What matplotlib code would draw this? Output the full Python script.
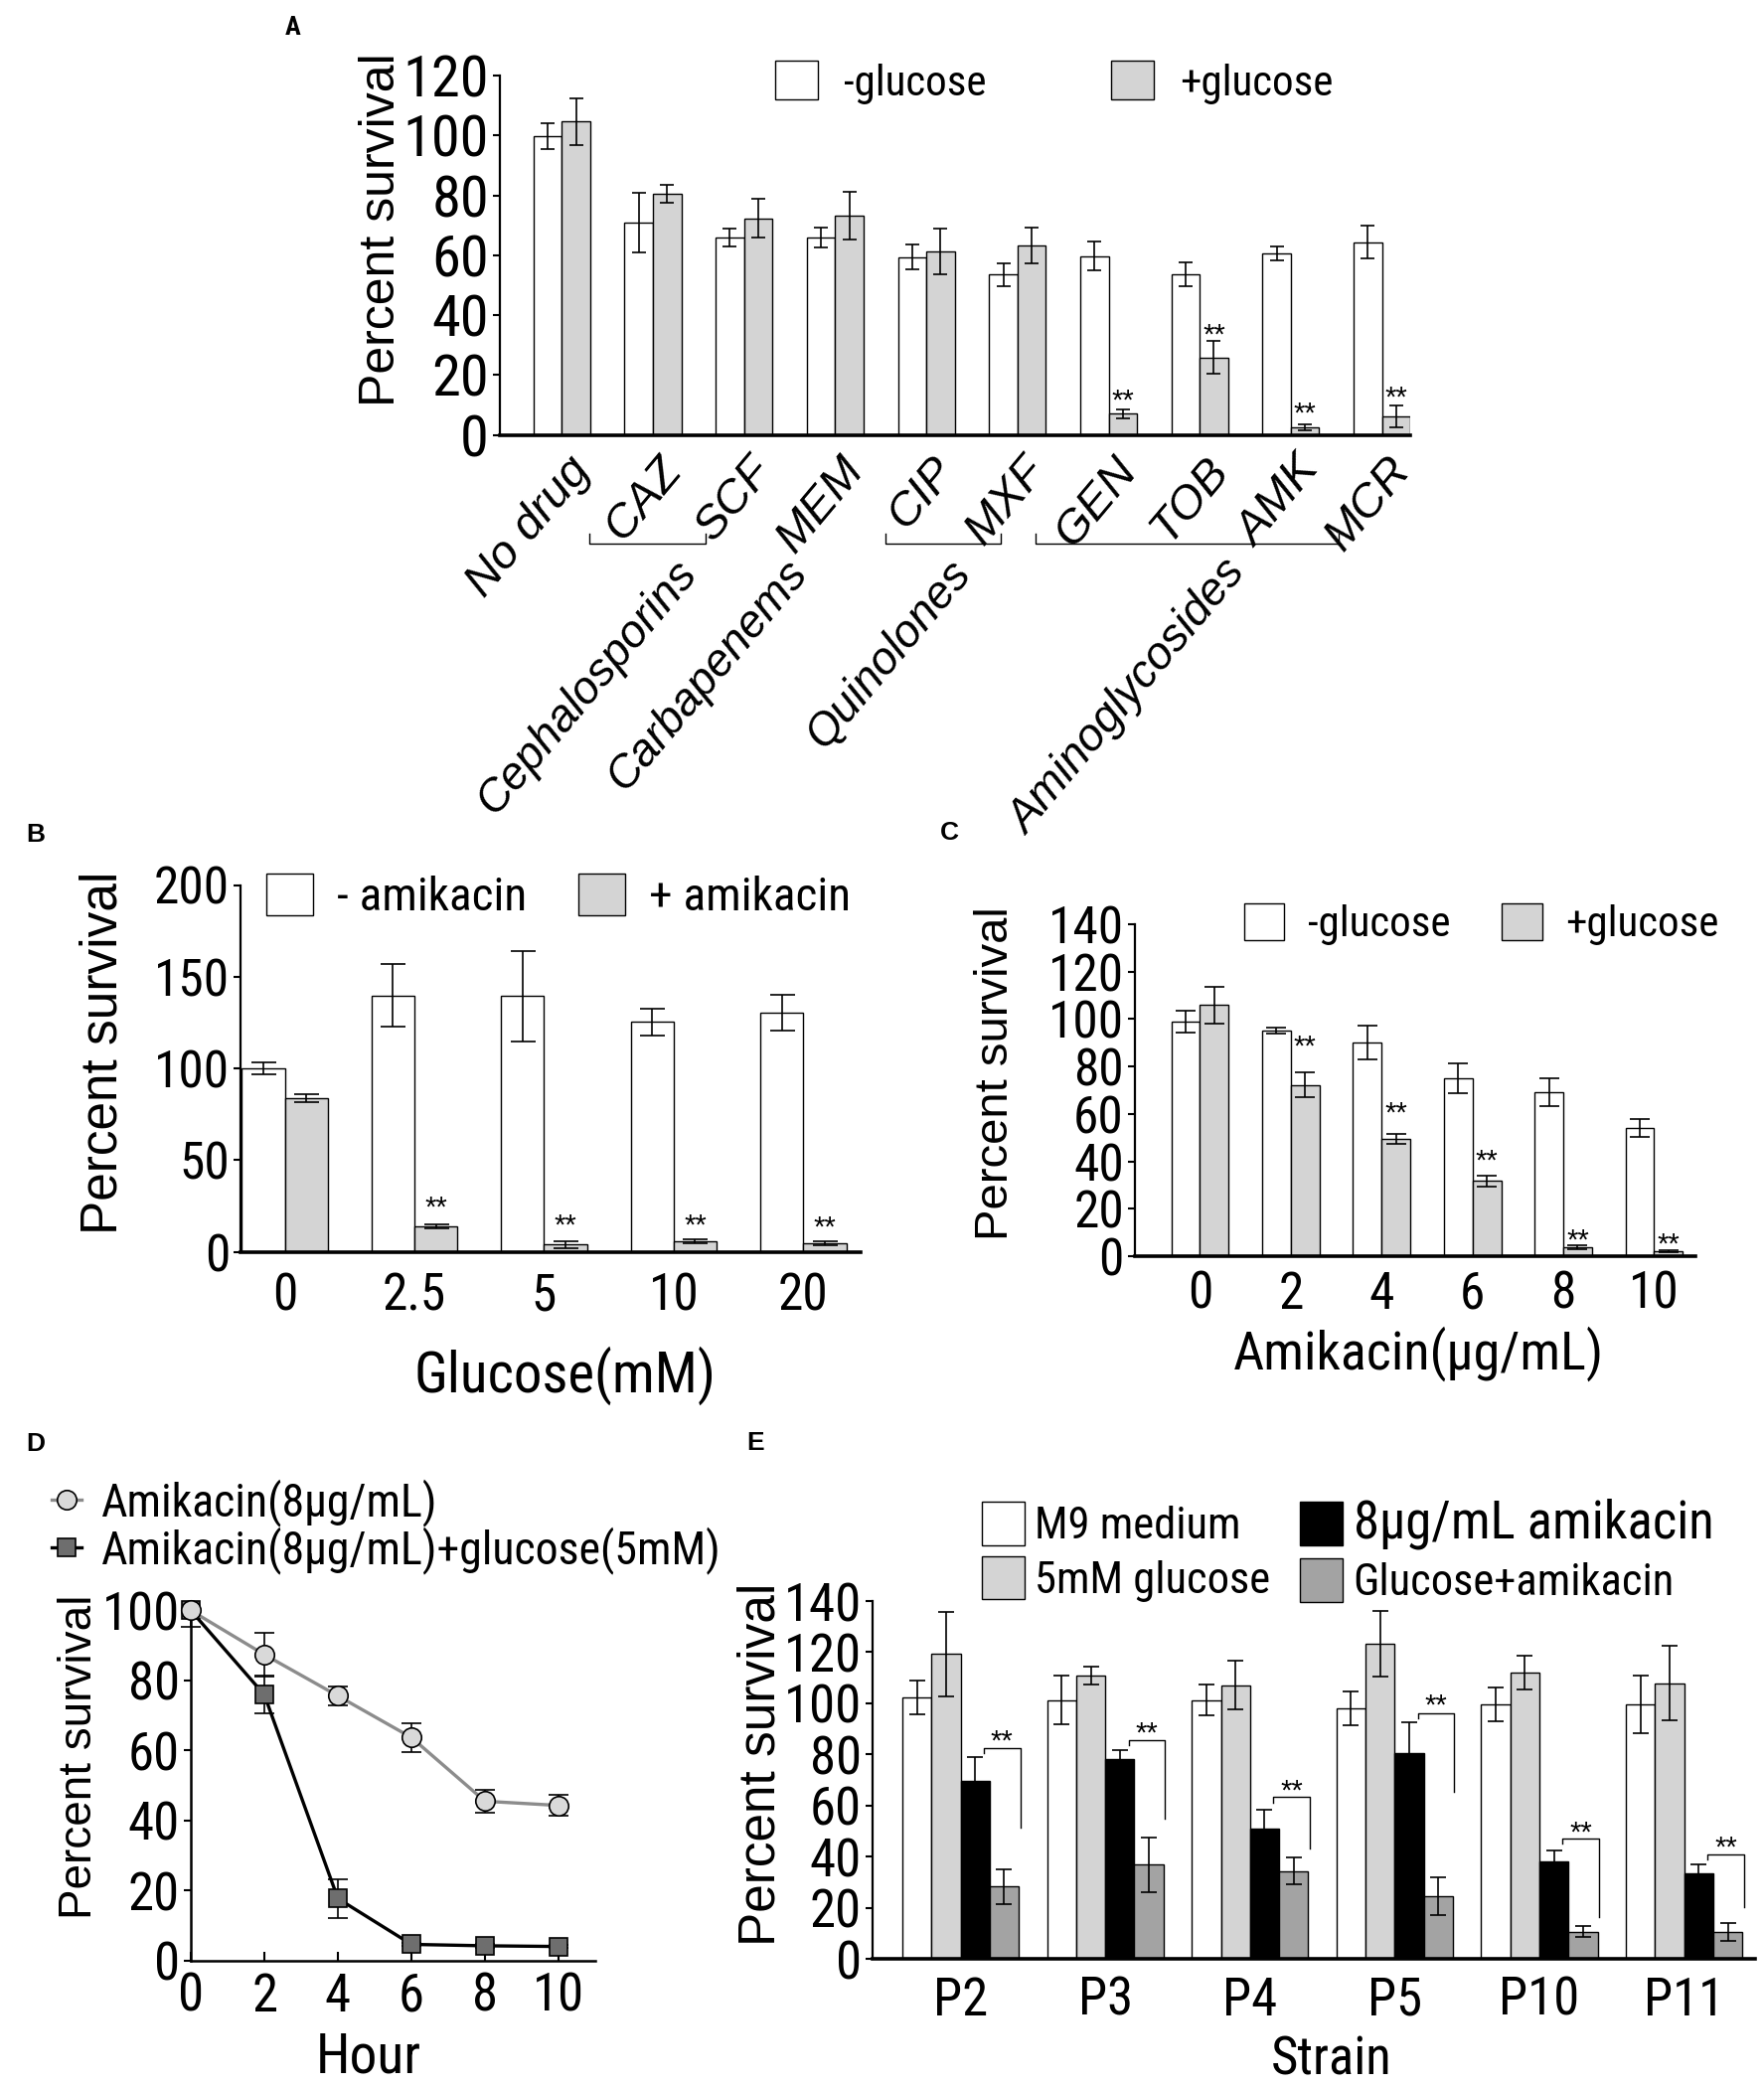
"""
Five-panel survival figure (A-E): antibiotic classes +/- glucose,
glucose dose, amikacin dose, time course, and clinical strains.
Output: out.png
"""

import numpy as np
import matplotlib
matplotlib.use("Agg")
import matplotlib.pyplot as plt
from matplotlib import font_manager
from matplotlib.transforms import ScaledTranslation

W, H, DPI = 1775, 2100, 100

# condensed face for ticks / legends, regular face for the rotated axis titles
_names = {f.name for f in font_manager.fontManager.ttflist}
NARROW = next((n for n in ["Liberation Sans Narrow", "Arial Narrow", "Roboto Condensed",
                           "Pragati Narrow", "Archivo Narrow", "PT Sans Narrow"]
               if n in _names), "Liberation Sans")
REG = "Liberation Sans"
plt.rcParams["font.family"] = [NARROW, "DejaVu Sans"]

WHITE, LGREY, MGREY, DGREY = "white", "#d4d4d4", "#a3a3a3", "#6e6e6e"

# ---------------- data ----------------
# A: antibiotics +/- glucose
A_DRUGS = ["No drug", "CAZ", "SCF", "MEM", "CIP", "MXF", "GEN", "TOB", "AMK", "MCR"]
A_NOGLU = [99.7, 70.9, 66.0, 66.0, 59.4, 53.5, 59.7, 53.5, 60.5, 64.3]
A_NOGLU_ERR = [4.4, 10.0, 2.9, 3.3, 4.2, 3.7, 4.8, 4.0, 2.3, 5.5]
A_GLU = [104.6, 80.4, 72.3, 73.2, 61.3, 63.3, 7.1, 25.9, 2.5, 6.2]
A_GLU_ERR = [7.9, 3.0, 6.4, 8.1, 7.6, 6.0, 1.4, 5.5, 1.0, 3.5]
A_STAR_IDX = [6, 7, 8, 9]
A_STAR_Y = [13.7, 35.5, 9.2, 14.5]
A_CLASSES = ["Cephalosporins", "Carbapenems", "Quinolones", "Aminoglycosides"]

# B: glucose dose +/- amikacin
B_GLUCOSE = ["0", "2.5", "5", "10", "20"]
B_NOAMK = [100.0, 139.8, 139.4, 125.4, 130.5]
B_NOAMK_ERR = [3.1, 17.0, 24.7, 7.3, 9.7]
B_AMK = [83.7, 14.0, 4.0, 5.8, 4.7]
B_AMK_ERR = [2.0, 1.0, 2.0, 1.0, 1.0]
B_STAR_IDX = [1, 2, 3, 4]
B_STAR_Y = [27.5, 17.8, 17.8, 16.8]

# C: amikacin dose +/- glucose
C_AMIKACIN = ["0", "2", "4", "6", "8", "10"]
C_NOGLU = [99.0, 95.2, 90.2, 74.9, 69.3, 54.1]
C_NOGLU_ERR = [4.7, 1.3, 7.1, 6.3, 5.9, 3.8]
C_GLU = [105.9, 72.2, 49.4, 31.8, 3.8, 2.2]
C_GLU_ERR = [7.8, 5.3, 2.2, 2.3, 0.8, 0.5]
C_STAR_IDX = [1, 2, 3, 4, 5]
C_STAR_Y = [91.0, 63.0, 43.0, 9.2, 7.7]

# D: time course
D_HOUR = [0, 2, 4, 6, 8, 10]
D_AMK = [100.0, 87.4, 75.6, 63.7, 45.5, 44.3]
D_AMK_LO = [4.6, 6.3, 2.6, 4.2, 3.2, 2.9]
D_AMK_HI = [0.0, 6.3, 2.6, 4.2, 3.2, 2.9]
D_AMK_GLU = [100.0, 75.9, 17.7, 4.6, 4.2, 4.0]
D_AMK_GLU_LO = [0.0, 5.4, 5.6, 0.5, 0.5, 0.5]
D_AMK_GLU_HI = [0.0, 5.4, 5.6, 0.5, 0.5, 0.5]

# E: strains
E_STRAINS = ["P2", "P3", "P4", "P5", "P10", "P11"]
E_M9 = [102.2, 101.3, 101.3, 98.0, 99.5, 99.5]
E_M9_ERR = [6.5, 9.6, 6.0, 6.7, 6.7, 11.3]
E_GLU = [119.2, 110.8, 107.1, 123.4, 112.0, 107.9]
E_GLU_ERR = [16.4, 3.5, 9.4, 12.9, 6.7, 14.7]
E_AMK = [69.5, 78.1, 50.8, 80.4, 38.3, 33.4]
E_AMK_ERR = [9.6, 3.4, 7.6, 12.2, 4.0, 3.4]
E_GLU_AMK = [28.2, 36.8, 34.4, 24.5, 10.6, 10.5]
E_GLU_AMK_ERR = [6.9, 10.7, 5.1, 7.2, 2.2, 3.4]
E_BRACKET_TOP = [82.6, 85.7, 63.2, 96.2, 47.2, 41.0]
E_BRACKET_END = [51.4, 54.8, 43.0, 65.4, 16.5, 20.2]
E_STAR_Y = [87.7, 90.6, 68.3, 101.5, 51.9, 46.0]


# ---------------- helpers ----------------
def fx(x):
    return x / W


def fy(y):
    return 1 - y / H


def add_axes(fig, left, right, top, bottom):
    return fig.add_axes([fx(left), fy(bottom), fx(right) - fx(left), fy(top) - fy(bottom)])


def style_bar_axes(ax, ticksize, xpad):
    ax.spines[["top", "right"]].set_visible(False)
    ax.spines["left"].set_linewidth(1.6)
    ax.spines["bottom"].set_linewidth(2.6)
    ax.tick_params(axis="y", direction="out", length=5, width=1.5, pad=3, labelsize=ticksize)
    ax.tick_params(axis="x", length=0, pad=xpad, labelsize=ticksize)


def bars(ax, x, vals, err, color, width, capsize):
    return ax.bar(x, vals, width, yerr=err, color=color, edgecolor="black", linewidth=1.0,
                  capsize=capsize, error_kw=dict(elinewidth=1.2, capthick=1.2, ecolor="black"),
                  zorder=2)


def stars(ax, xs, ys, size=21):
    for x, y in zip(xs, ys):
        ax.annotate("**", (x, y), xytext=(0, -5), textcoords="offset points",
                    ha="center", va="center", fontsize=size, family=REG, annotation_clip=False)


def ylabel(fig, x, y, size):
    fig.text(fx(x), fy(y), "Percent survival", rotation=90, ha="center", va="center",
             family=REG, fontsize=size)


def panel_label(fig, x, y, s, family=REG):
    fig.text(fx(x), fy(y), s, ha="center", va="center", fontsize=19, fontweight="bold",
             family=family)


fig = plt.figure(figsize=(W / DPI, H / DPI), dpi=DPI)

# ---------------- panel A ----------------
ax = add_axes(fig, 503, 1419, 76, 437.7)
xa = np.arange(len(A_DRUGS))
wa = 0.312
b1 = bars(ax, xa - wa / 2, A_NOGLU, A_NOGLU_ERR, WHITE, wa, 5)
b2 = bars(ax, xa + wa / 2, A_GLU, A_GLU_ERR, LGREY, wa, 5)
ax.set_xlim(-0.68, 9.31)
ax.set_ylim(0, 120)
ax.set_yticks(range(0, 121, 20))
style_bar_axes(ax, 42, 10)
ax.set_xticks(xa)
ax.set_xticklabels(A_DRUGS, rotation=50, ha="right", va="top", rotation_mode="anchor",
                   fontstyle="italic", family=REG, fontsize=34)
shift = ScaledTranslation(4 / DPI, 0, fig.dpi_scale_trans)
for lab in ax.get_xticklabels():
    lab.set_transform(lab.get_transform() + shift)
stars(ax, xa[A_STAR_IDX] + wa / 2, A_STAR_Y)

# drug-class brackets and names
for x0, x1 in [(0.30, 1.58), (3.55, 4.82), (5.20, 8.53)]:
    ax.plot([x0, x0, x1, x1], [-33, -36.3, -36.3, -33], color="black", lw=1.0, clip_on=False)
for name, gx in zip(A_CLASSES, [1.22, 2.43, 4.23, 7.24]):
    ax.text(gx, -39, name, rotation=50, ha="right", va="top", rotation_mode="anchor",
            fontstyle="italic", family=REG, fontsize=33, clip_on=False)

ax.legend([b1, b2], ["-glucose", "+glucose"], ncol=2, frameon=False,
          loc="center left", bbox_to_anchor=(fx(779.5), fy(83)), bbox_transform=fig.transFigure,
          borderpad=0, borderaxespad=0, handlelength=1.0, handleheight=1.0,
          handletextpad=0.62, columnspacing=2.9, prop=dict(family=NARROW, size=31))
ylabel(fig, 384, 231, 36)
panel_label(fig, 295, 28, "A", family=NARROW)

# ---------------- panel B ----------------
ax = add_axes(fig, 242.3, 865.6, 890.5, 1259.7)
xb = np.arange(len(B_GLUCOSE))
wb = 0.332
b1 = bars(ax, xb - wb / 2, B_NOAMK, B_NOAMK_ERR, WHITE, wb, 9)
b2 = bars(ax, xb + wb / 2, B_AMK, B_AMK_ERR, LGREY, wb, 9)
ax.set_xlim(-0.34, 4.44)
ax.set_ylim(0, 200)
ax.set_yticks(range(0, 201, 50))
style_bar_axes(ax, 37, 14)
ax.set_xticks(xb, B_GLUCOSE)
stars(ax, xb[B_STAR_IDX] + wb / 2, B_STAR_Y)
ax.legend([b1, b2], ["- amikacin", "+ amikacin"], ncol=2, frameon=False,
          loc="center left", bbox_to_anchor=(fx(268), fy(902)), bbox_transform=fig.transFigure,
          borderpad=0, borderaxespad=0, handlelength=1.0, handleheight=1.0,
          handletextpad=0.5, columnspacing=1.1, prop=dict(family=NARROW, size=34))
ylabel(fig, 104, 1059, 37)
fig.text(fx(568), fy(1384), "Glucose(mM)", ha="center", va="center", fontsize=41)
panel_label(fig, 36, 840, "B")

# ---------------- panel C ----------------
ax = add_axes(fig, 1142, 1706, 930, 1264)
xc = np.arange(len(C_AMIKACIN))
wc = 0.316
b1 = bars(ax, xc - wc / 2, C_NOGLU, C_NOGLU_ERR, WHITE, wc, 7.5)
b2 = bars(ax, xc + wc / 2, C_GLU, C_GLU_ERR, LGREY, wc, 7.5)
ax.set_xlim(-0.716, 5.455)
ax.set_ylim(0, 140)
ax.set_yticks(range(0, 141, 20))
style_bar_axes(ax, 37, 10)
ax.set_xticks(xc, C_AMIKACIN)
stars(ax, xc[C_STAR_IDX] + wc / 2, C_STAR_Y)
ax.legend([b1, b2], ["-glucose", "+glucose"], ncol=2, frameon=False,
          loc="center left", bbox_to_anchor=(fx(1252), fy(930)), bbox_transform=fig.transFigure,
          borderpad=0, borderaxespad=0, handlelength=0.94, handleheight=0.94,
          handletextpad=0.55, columnspacing=1.2, prop=dict(family=NARROW, size=31))
ylabel(fig, 1002, 1080, 34)
fig.text(fx(1427), fy(1362), "Amikacin(μg/mL)", ha="center", va="center", fontsize=39)
panel_label(fig, 955, 838, "C")

# ---------------- panel D ----------------
ax = add_axes(fig, 192, 599, 1620.5, 1972.7)
ax.errorbar(D_HOUR, D_AMK, yerr=[D_AMK_LO, D_AMK_HI], fmt="none", ecolor="black",
            elinewidth=1.2, capsize=7, capthick=1.2, clip_on=False, zorder=2)
ax.errorbar(D_HOUR, D_AMK_GLU, yerr=[D_AMK_GLU_LO, D_AMK_GLU_HI], fmt="none", ecolor="black",
            elinewidth=1.2, capsize=7, capthick=1.2, clip_on=False, zorder=2)
l2, = ax.plot(D_HOUR, D_AMK_GLU, color="black", lw=2.4, marker="s", ms=13, mfc=DGREY,
              mec="black", mew=1.2, clip_on=False, zorder=3)
l1, = ax.plot(D_HOUR, D_AMK, color="#8c8c8c", lw=2.4, marker="o", ms=14, mfc="#d9d9d9",
              mec="black", mew=1.2, clip_on=False, zorder=4)
ax.set_xlim(0, 11)
ax.set_ylim(0, 100)
ax.set_xticks(D_HOUR)
ax.set_yticks(range(0, 101, 20))
ax.spines[["top", "right"]].set_visible(False)
for s in ["left", "bottom"]:
    ax.spines[s].set_linewidth(1.8)
ax.tick_params(axis="x", direction="in", length=6.5, width=1.5, pad=8, labelsize=38)
ax.tick_params(axis="y", direction="out", length=5, width=1.5, pad=3, labelsize=38)
ax.legend([l1, l2], ["Amikacin(8μg/mL)", "Amikacin(8μg/mL)+glucose(5mM)"], frameon=False,
          loc="center left", bbox_to_anchor=(fx(52), fy(1536)), bbox_transform=fig.transFigure,
          borderpad=0, borderaxespad=0, handlelength=0.65, handletextpad=0.45,
          labelspacing=0.0, prop=dict(family=NARROW, size=33))
ylabel(fig, 80, 1768, 33)
fig.text(fx(371), fy(2085), "Hour", ha="center", va="baseline", fontsize=40)
panel_label(fig, 36, 1453, "D")

# ---------------- panel E ----------------
ax = add_axes(fig, 878, 1766, 1611, 1971)
xe = np.arange(len(E_STRAINS))
we = 0.201
series = [(E_M9, E_M9_ERR, WHITE), (E_GLU, E_GLU_ERR, LGREY),
          (E_AMK, E_AMK_ERR, "black"), (E_GLU_AMK, E_GLU_AMK_ERR, MGREY)]
handles = []
for k, (vals, err, col) in enumerate(series):
    handles.append(bars(ax, xe + (k - 1.5) * we, vals, err, col, we, 5.5))
ax.set_xlim(-0.608, 5.49)
ax.set_ylim(0, 140)
ax.set_yticks(range(0, 141, 20))
style_bar_axes(ax, 38, 12)
ax.set_xticks(xe, E_STRAINS)

for i, (top, end) in enumerate(zip(E_BRACKET_TOP, E_BRACKET_END)):
    x0, x1 = i + 0.8 * we, i + 2.05 * we
    ax.plot([x0, x0, x1, x1], [top - 2, top, top, end], color="black", lw=1.0, zorder=3)
stars(ax, xe + 1.425 * we, E_STAR_Y)

leg = ax.legend(handles, ["M9 medium", "5mM glucose", "8μg/mL amikacin", "Glucose+amikacin"],
                ncol=2, frameon=False, loc="center left",
                bbox_to_anchor=(fx(988), fy(1561)), bbox_transform=fig.transFigure,
                borderpad=0, borderaxespad=0, handlelength=0.96, handleheight=1.13,
                handletextpad=0.24, columnspacing=0.67, labelspacing=0.2,
                prop=dict(family=NARROW, size=32))
leg.get_texts()[2].set_fontsize(38)
ylabel(fig, 766, 1775, 37)
fig.text(fx(1340), fy(2088), "Strain", ha="center", va="baseline", fontsize=38)
panel_label(fig, 760, 1452, "E")

fig.savefig("out.png", dpi=DPI)
